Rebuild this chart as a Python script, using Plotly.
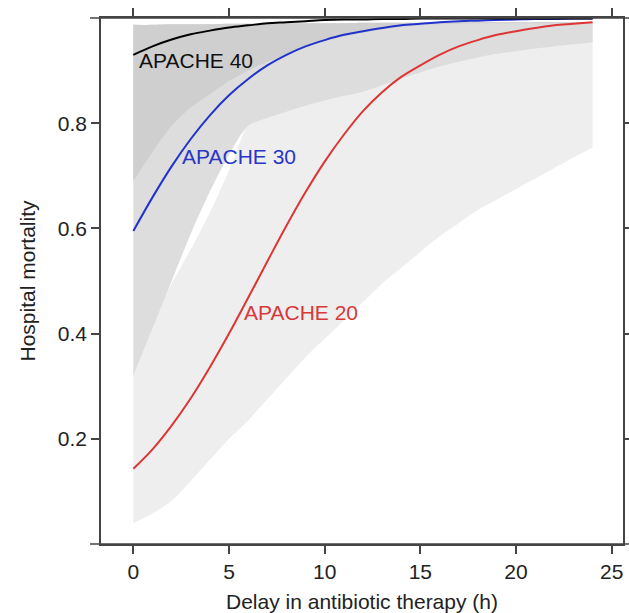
import plotly.graph_objects as go

# ---- data ----
delay_h = list(range(0, 25))

apache20 = [0.143, 0.180, 0.225, 0.277, 0.336, 0.400, 0.468, 0.537, 0.605, 0.669,
            0.727, 0.778, 0.823, 0.859, 0.888, 0.910, 0.930, 0.946, 0.958, 0.968,
            0.975, 0.981, 0.986, 0.989, 0.992]
apache30 = [0.595, 0.659, 0.718, 0.770, 0.815, 0.853, 0.884, 0.910, 0.930, 0.946,
            0.958, 0.968, 0.975, 0.981, 0.986, 0.989, 0.992, 0.994, 0.995, 0.996,
            0.997, 0.998, 0.998, 0.999, 0.999]
apache40 = [0.930, 0.946, 0.959, 0.969, 0.976, 0.982, 0.986, 0.990, 0.992, 0.994,
            0.996, 0.997, 0.997, 0.998, 0.998, 0.999, 0.999, 0.999, 0.999, 0.999,
            0.999, 0.999, 0.999, 0.999, 0.999]

# confidence bands
ci20_lower = [0.040, 0.058, 0.082, 0.120, 0.160, 0.200, 0.235, 0.275, 0.315, 0.355,
              0.390, 0.425, 0.460, 0.495, 0.525, 0.555, 0.585, 0.610, 0.635, 0.655,
              0.675, 0.695, 0.715, 0.735, 0.754]
ci20_upper = [0.330, 0.420, 0.495, 0.560, 0.630, 0.710, 0.800, 0.850, 0.880, 0.905,
              0.925, 0.940, 0.952, 0.962, 0.970, 0.976, 0.980, 0.983, 0.985, 0.987,
              0.988, 0.989, 0.990, 0.990, 0.990]
ci30_lower = [0.320, 0.410, 0.500, 0.590, 0.670, 0.740, 0.795, 0.810, 0.822, 0.833,
              0.843, 0.852, 0.860, 0.872, 0.885, 0.897, 0.908, 0.917, 0.925, 0.932,
              0.937, 0.942, 0.946, 0.950, 0.954]
ci30_upper = [0.987, 0.987, 0.988, 0.988, 0.988, 0.989, 0.989, 0.989, 0.990, 0.990,
              0.990, 0.990, 0.991, 0.991, 0.991, 0.991, 0.991, 0.992, 0.992, 0.992,
              0.992, 0.992, 0.992, 0.992, 0.992]
ci40_lower = [0.690, 0.745, 0.795, 0.830, 0.855, 0.880, 0.900, 0.917, 0.930, 0.945,
              0.957, 0.965, 0.972, 0.978, 0.983, 0.986, 0.988, 0.989, 0.990, 0.990,
              0.990, 0.990, 0.990, 0.990, 0.990]
ci40_upper = ci30_upper

x_ticks = [0, 5, 10, 15, 20, 25]
y_ticks = [0.2, 0.4, 0.6, 0.8]

labels = ["APACHE 40", "APACHE 30", "APACHE 20"]
label_x = [0.2, 2.45, 5.7]
label_y = [0.92, 0.737, 0.44]
label_colors = ["#111111", "#2a36c8", "#d8383a"]

FONT = "Liberation Sans, Arial, Helvetica, sans-serif"
AX = "#444444"

fig = go.Figure()

def band(lower, upper, color):
    fig.add_trace(go.Scatter(
        x=delay_h, y=lower, mode="lines",
        line=dict(width=0, color=color, shape="spline", smoothing=0.8),
        hoverinfo="skip", showlegend=False))
    fig.add_trace(go.Scatter(
        x=delay_h, y=upper, mode="lines", fill="tonexty", fillcolor=color,
        line=dict(width=0, color=color, shape="spline", smoothing=0.8),
        hoverinfo="skip", showlegend=False))

band(ci20_lower, ci20_upper, "#eeeeee")
band(ci30_lower, ci30_upper, "#dddddd")
band(ci40_lower, ci40_upper, "#cfcfcf")

for ys, col in [(apache20, "#dd3535"), (apache30, "#2233cc"), (apache40, "#000000")]:
    fig.add_trace(go.Scatter(x=delay_h, y=ys, mode="lines",
                             line=dict(color=col, width=2, shape="spline"),
                             showlegend=False))

for t, lx, ly, c in zip(labels, label_x, label_y, label_colors):
    fig.add_annotation(x=lx, y=ly, text=t, showarrow=False, xanchor="left",
                       yanchor="middle", font=dict(family=FONT, size=21, color=c))

# extended top/bottom frame lines
for yy in (0, 1):
    fig.add_shape(type="line", xref="paper", yref="paper", x0=-0.021, x1=1.012,
                  y0=yy, y1=yy, line=dict(color=AX, width=1.5), layer="above")

fig.update_xaxes(range=[-1.69, 25.59], tickvals=x_ticks, ticks="outside", ticklen=8,
                 tickwidth=1.5, tickcolor=AX, showline=True, linecolor=AX, linewidth=1.5,
                 mirror="ticks", showgrid=False, zeroline=False,
                 tickfont=dict(family=FONT, size=21, color="#222"),
                 title=dict(text="Delay in antibiotic therapy (h)",
                            font=dict(family=FONT, size=21, color="#222"), standoff=12))
fig.update_yaxes(range=[0, 1.0], tickvals=y_ticks, tickformat=".1f", ticks="outside",
                 ticklen=8, tickwidth=1.5, tickcolor=AX, showline=True, linecolor=AX,
                 linewidth=1.5, mirror="ticks", showgrid=False, zeroline=False,
                 tickfont=dict(family=FONT, size=21, color="#222"),
                 title=dict(text="Hospital mortality",
                            font=dict(family=FONT, size=21, color="#222"), standoff=16))

fig.update_layout(width=629, height=613, margin=dict(l=101, r=6, t=18, b=69, autoexpand=False),
                  paper_bgcolor="white", plot_bgcolor="white")

fig.write_html("out.html", config={"responsive": False},
               post_script="document.documentElement.style.overflow='hidden';"
                           "document.body.style.margin='0';document.body.style.overflow='hidden';")
